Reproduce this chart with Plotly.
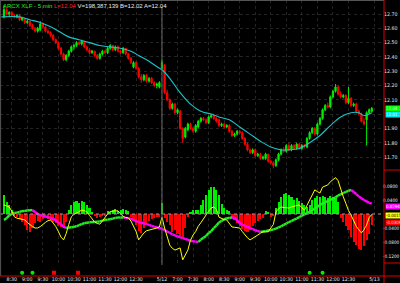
import plotly.graph_objects as go

W, H = 400, 283

# ---------------- data ----------------
bar_index = list(range(143))
opens = [12.68,12.73,12.70,12.71,12.69,12.68,12.69,12.66,12.67,12.64,12.65,12.62,12.60,12.58,12.59,12.63,12.61,12.58,12.57,12.55,
         12.52,12.50,12.46,12.42,12.38,12.41,12.44,12.47,12.48,12.50,12.49,12.51,12.47,12.45,12.43,12.44,12.41,12.39,12.42,12.44,
         12.43,12.46,12.48,12.45,12.47,12.44,12.43,12.46,12.42,12.39,12.33,12.36,12.32,12.26,12.24,12.27,12.23,12.25,12.22,12.20,
         12.19,
         12.32,12.34,12.15,12.10,12.04,12.07,12.01,12.02,11.90,11.84,11.89,11.93,11.90,11.88,11.91,11.95,11.97,11.96,11.94,11.98,
         11.99,11.97,11.96,11.92,11.93,11.91,11.92,11.88,11.85,11.86,11.88,11.87,11.83,11.79,11.75,11.73,11.75,11.71,11.72,11.69,
         11.69,11.72,11.67,11.66,11.64,11.68,11.72,11.75,11.74,11.78,11.75,11.78,11.76,11.79,11.76,11.78,11.77,11.83,11.87,11.90,
         11.86,11.93,11.97,12.03,12.06,12.05,12.12,12.16,12.19,12.14,12.12,12.13,12.08,12.11,12.06,12.07,12.02,12.00,11.95,11.96,
         12.01,12.02]
highs = [12.76,12.74,12.72,12.72,12.70,12.70,12.70,12.68,12.67,12.66,12.65,12.63,12.61,12.61,12.65,12.64,12.62,12.59,12.58,12.56,
         12.53,12.51,12.47,12.43,12.42,12.45,12.48,12.49,12.51,12.51,12.52,12.51,12.48,12.46,12.45,12.44,12.42,12.43,12.45,12.45,
         12.47,12.49,12.48,12.48,12.48,12.45,12.47,12.46,12.43,12.40,12.37,12.37,12.33,12.28,12.28,12.28,12.26,12.26,12.23,12.22,
         12.23,
         12.38,12.35,12.17,12.11,12.08,12.08,12.04,12.03,11.91,11.91,11.94,11.94,11.91,11.93,11.96,11.98,11.98,11.97,11.99,12.00,
         12.00,11.98,11.97,11.94,11.94,11.93,11.93,11.89,11.87,11.89,11.89,11.88,11.84,11.80,11.76,11.76,11.76,11.73,11.73,11.71,
         11.73,11.72,11.68,11.67,11.69,11.73,11.76,11.77,11.79,11.80,11.79,11.79,11.80,11.80,11.79,11.79,11.84,11.88,11.91,11.91,
         11.94,11.98,12.04,12.07,12.08,12.13,12.17,12.21,12.20,12.16,12.14,12.14,12.19,12.12,12.08,12.08,12.03,12.01,11.97,12.02,
         12.04,12.05]
lows = [12.67,12.69,12.68,12.68,12.67,12.67,12.65,12.65,12.63,12.63,12.61,12.59,12.57,12.57,12.58,12.60,12.57,12.56,12.54,12.51,
        12.49,12.45,12.41,12.37,12.37,12.40,12.43,12.45,12.47,12.48,12.48,12.46,12.44,12.42,12.42,12.40,12.38,12.38,12.41,12.42,
        12.42,12.45,12.44,12.44,12.43,12.42,12.42,12.41,12.38,12.35,12.32,12.31,12.25,12.22,12.23,12.22,12.22,12.21,12.19,12.18,
        12.18,
        12.31,12.14,12.09,12.03,12.03,12.00,12.00,11.89,11.80,11.83,11.88,11.89,11.87,11.87,11.90,11.94,11.95,11.93,11.93,11.97,
        11.96,11.94,11.91,11.91,11.90,11.90,11.87,11.84,11.84,11.85,11.86,11.82,11.78,11.74,11.72,11.72,11.70,11.70,11.68,11.68,
        11.68,11.66,11.65,11.62,11.63,11.67,11.71,11.73,11.73,11.74,11.74,11.75,11.75,11.75,11.75,11.76,11.76,11.82,11.86,11.85,
        11.85,11.92,11.96,12.02,12.04,12.04,12.11,12.15,12.13,12.11,12.11,12.07,12.07,12.05,12.05,12.01,11.99,11.94,11.92,11.78,
        12.00,12.01]
closes = [12.73,12.70,12.71,12.69,12.68,12.69,12.66,12.67,12.64,12.65,12.62,12.60,12.58,12.60,12.63,12.61,12.58,12.57,12.55,12.52,
          12.50,12.46,12.42,12.38,12.41,12.44,12.47,12.48,12.50,12.49,12.51,12.47,12.45,12.43,12.44,12.41,12.39,12.42,12.44,12.43,
          12.46,12.48,12.45,12.47,12.44,12.43,12.46,12.42,12.39,12.36,12.36,12.32,12.26,12.24,12.27,12.23,12.25,12.22,12.20,12.21,
          12.22,
          12.36,12.15,12.10,12.04,12.07,12.01,12.03,11.90,11.83,11.90,11.93,11.90,11.88,11.92,11.95,11.97,11.96,11.94,11.98,11.99,
          11.97,11.95,11.92,11.93,11.91,11.92,11.88,11.85,11.86,11.88,11.87,11.83,11.79,11.75,11.73,11.75,11.71,11.72,11.69,11.70,
          11.72,11.67,11.66,11.64,11.68,11.72,11.75,11.74,11.78,11.75,11.78,11.76,11.79,11.76,11.78,11.77,11.83,11.87,11.90,11.86,
          11.93,11.97,12.03,12.06,12.05,12.12,12.16,12.19,12.14,12.12,12.13,12.08,12.11,12.06,12.07,12.02,12.00,11.95,11.93,12.01,
          12.03,12.04]

ma_index = [-1, 6, 10, 14, 18, 22, 25, 29, 33, 37, 41, 45, 49, 52, 56, 60, 61, 64, 68, 72, 76, 80, 83, 87, 91, 95, 99,
            103, 107, 110, 114, 118, 122, 126, 130, 134, 137, 139, 142]
ma_values = [12.68, 12.68, 12.66, 12.64, 12.61, 12.57, 12.54, 12.52, 12.50, 12.48, 12.47, 12.46, 12.44, 12.41, 12.37, 12.32,
             12.31, 12.25, 12.15, 12.07, 12.02, 12.00, 11.98, 11.96, 11.91, 11.86, 11.81, 11.77, 11.75, 11.75, 11.76, 11.80,
             11.85, 11.92, 11.98, 12.01, 12.01, 11.99, 12.01]

histogram = [0.054,0.034,0.026,0.011,-0.003,-0.009,-0.014,-0.023,-0.031,-0.046,
             -0.051,-0.040,-0.026,-0.020,-0.023,-0.014,-0.011,-0.014,-0.017,-0.023,
             -0.026,-0.034,-0.037,-0.040,-0.023,0.011,0.026,0.034,0.037,0.031,
             0.037,0.034,0.026,0.017,0.006,-0.006,-0.011,-0.009,-0.006,-0.003,
             0.009,0.003,0.011,0.014,0.009,0.011,0.014,0.011,0.009,-0.009,
             -0.017,-0.031,-0.049,-0.054,-0.040,-0.029,-0.020,-0.014,-0.011,-0.009,
             -0.009,0.031,-0.011,-0.023,-0.031,-0.051,-0.046,-0.057,-0.063,-0.066,
             -0.040,-0.009,0.006,0.011,0.011,0.011,0.026,0.040,0.054,0.069,
             0.077,0.077,0.069,0.054,0.029,0.017,0.011,0.009,-0.011,-0.017,
             -0.026,-0.034,-0.043,-0.049,-0.051,-0.046,-0.034,-0.026,-0.020,-0.014,
             -0.011,0.009,0.003,-0.009,-0.003,0.017,0.034,0.049,0.057,0.060,
             0.054,0.049,0.040,0.046,0.037,0.031,0.026,0.020,0.026,0.040,
             0.046,0.051,0.049,0.051,0.049,0.046,0.051,0.049,0.046,0.034,
             -0.011,-0.023,-0.034,-0.046,-0.066,-0.080,-0.089,-0.100,-0.103,-0.091,
             -0.074,-0.057,-0.031]

macd_line = [0.026,0.024,0.020,0.008,-0.008,-0.012,-0.014,-0.015,-0.017,-0.024,
             -0.031,-0.036,-0.040,-0.040,-0.036,-0.029,-0.024,-0.019,-0.017,-0.026,
             -0.036,-0.050,-0.066,-0.074,-0.056,-0.030,-0.008,-0.001,0.003,0.008,
             0.011,0.010,0.006,-0.004,-0.015,-0.023,-0.027,-0.029,-0.020,-0.009,
             0.000,0.007,0.009,0.009,0.009,0.002,-0.007,-0.010,-0.011,-0.020,
             -0.034,-0.050,-0.074,-0.064,-0.054,-0.048,-0.046,-0.046,-0.044,-0.040,
             -0.037,-0.009,-0.040,-0.066,-0.089,-0.098,-0.103,-0.100,-0.097,-0.131,
             -0.115,-0.103,-0.075,-0.060,-0.050,-0.035,-0.025,-0.012,-0.003,0.008,
             0.017,0.020,0.014,-0.009,-0.013,-0.016,-0.017,-0.027,-0.037,-0.038,
             -0.040,-0.040,-0.050,-0.060,-0.068,-0.074,-0.070,-0.066,-0.060,-0.055,
             -0.051,-0.051,-0.051,-0.040,-0.030,0.006,0.015,0.020,0.019,0.018,
             0.017,0.020,0.022,0.024,0.026,0.018,0.011,0.025,0.040,0.055,
             0.069,0.064,0.060,0.077,0.080,0.083,0.092,0.097,0.104,0.095,
             0.070,0.049,0.030,0.010,-0.003,-0.020,-0.035,-0.045,-0.054,-0.045,
             -0.031,-0.010,-0.0015]

signal_line = [-0.017,-0.012,-0.004,0.000,0.003,0.004,0.006,0.008,0.009,0.010,
               0.011,0.011,0.006,0.000,-0.003,-0.005,-0.007,-0.009,-0.011,-0.014,
               -0.018,-0.024,-0.030,-0.036,-0.040,-0.039,-0.038,-0.037,-0.035,-0.032,
               -0.029,-0.026,-0.025,-0.024,-0.023,-0.023,-0.022,-0.021,-0.019,-0.017,
               -0.016,-0.015,-0.013,-0.011,-0.010,-0.010,-0.010,-0.011,-0.012,-0.014,
               -0.017,-0.020,-0.023,-0.025,-0.027,-0.029,-0.031,-0.034,-0.036,-0.038,
               -0.040,-0.042,-0.046,-0.050,-0.054,-0.058,-0.061,-0.064,-0.066,-0.069,
               -0.071,-0.074,-0.076,-0.078,-0.079,-0.080,-0.073,-0.068,-0.063,-0.054,
               -0.049,-0.040,-0.033,-0.024,-0.020,-0.015,-0.012,-0.011,-0.010,-0.011,
               -0.018,-0.026,-0.030,-0.034,-0.037,-0.040,-0.043,-0.046,-0.049,-0.051,
               -0.050,-0.049,-0.047,-0.046,-0.044,-0.042,-0.038,-0.035,-0.031,-0.027,
               -0.023,-0.020,-0.016,-0.013,-0.009,-0.005,-0.001,0.003,0.006,0.011,
               0.016,0.021,0.026,0.030,0.034,0.037,0.040,0.044,0.048,0.053,
               0.056,0.060,0.063,0.066,0.069,0.063,0.057,0.050,0.045,0.040,
               0.036,0.032,0.0294]

buy_dots = [7, 11, 118, 123]
sell_dots = [19.3, 28.6]

x_tick_index = [3, 9, 15, 21, 27, 33, 39, 45, 51, 61, 67, 73, 79, 85, 91, 97, 103, 109, 115, 121, 127, 133, 143]
x_tick_text = ["8:30", "9:00", "9:30", "10:00", "10:30", "11:00", "11:30", "12:00", "12:30", "5/12", "7:00", "7:30",
               "8:00", "8:30", "9:00", "9:30", "10:00", "10:30", "11:00", "11:30", "12:00", "12:30", "5/13"]
price_ticks = [11.70, 11.80, 11.90, 12.00, 12.10, 12.20, 12.30, 12.40, 12.50, 12.60, 12.70]
price_tick_text = ["11.70", "11.80", "11.90", "", "12.10", "12.20", "12.30", "12.40", "12.50", "12.60", "12.70"]
ind_ticks = [-0.12, -0.08, -0.04, 0.04, 0.08]
ind_tick_text = ["-0.1200", "-0.0800", "-0.0400", "0.0400", "0.0800"]
day_break_index = 61

header_parts = [("ARCX XLF - 5 min", "#22ee22"), ("L=12.04", "#ff2020"),
                ("V=198,387,139", "#e8e8e8"), ("B=12.02", "#e8e8e8"), ("A=12.04", "#e8e8e8")]
last_price, last_ma = 12.04, 12.01
last_signal, last_macd, last_hist = 0.0294, -0.0015, -0.0309

# ---------------- figure ----------------
GREEN = "#00ee00"
RED = "#ff0000"
MAG = "#ff00ff"
GRID = "#242424"
FONT = "Liberation Sans Narrow, Arial Narrow, DejaVu Sans Condensed, Liberation Sans"
TICKFONT = dict(family=FONT, size=5.2, color="#e6e6e6")

fig = go.Figure()

fig.add_trace(go.Candlestick(
    x=bar_index, open=opens, high=highs, low=lows, close=closes,
    xaxis="x3", yaxis="y",
    increasing=dict(line=dict(color=GREEN, width=1), fillcolor=GREEN),
    decreasing=dict(line=dict(color=RED, width=1), fillcolor=RED),
    whiskerwidth=0, hoverinfo="skip"))

fig.add_trace(go.Scatter(x=ma_index, y=ma_values, mode="lines", xaxis="x3", yaxis="y",
                         line=dict(color="#19c3c8", width=1.1, shape="spline"), hoverinfo="skip"))

fig.add_trace(go.Bar(x=bar_index, y=histogram, xaxis="x2", yaxis="y2", width=0.8,
                     marker=dict(color=[GREEN if v >= 0 else RED for v in histogram], line=dict(width=0)),
                     hoverinfo="skip"))

# signal line coloured by direction
gx, gy, mx, my = [], [], [], []
for k in range(len(signal_line) - 1):
    if signal_line[k + 1] >= signal_line[k]:
        gx += [bar_index[k], bar_index[k + 1], None]
        gy += [signal_line[k], signal_line[k + 1], None]
    else:
        mx += [bar_index[k], bar_index[k + 1], None]
        my += [signal_line[k], signal_line[k + 1], None]
fig.add_trace(go.Scatter(x=gx, y=gy, mode="lines", xaxis="x2", yaxis="y2",
                         line=dict(color="#22ee22", width=2.4), hoverinfo="skip"))
fig.add_trace(go.Scatter(x=mx, y=my, mode="lines", xaxis="x2", yaxis="y2",
                         line=dict(color=MAG, width=2.4), hoverinfo="skip"))

fig.add_trace(go.Scatter(x=bar_index, y=macd_line, mode="lines", xaxis="x2", yaxis="y2",
                         line=dict(color="#ffff00", width=1), hoverinfo="skip"))

fig.add_trace(go.Scatter(x=buy_dots, y=[0.25] * len(buy_dots), mode="markers", xaxis="x", yaxis="y3",
                         marker=dict(color=GREEN, size=4, symbol="circle"), hoverinfo="skip"))
fig.add_trace(go.Scatter(x=sell_dots, y=[0.25] * len(sell_dots), mode="markers", xaxis="x", yaxis="y3",
                         marker=dict(color=RED, size=4, symbol="square"), hoverinfo="skip"))

px_per_bar = 2.59
x_left = -4 / px_per_bar
x_right = x_left + 384 / px_per_bar
XD = 384 / W

def py(y):  # pixel from top -> paper
    return 1 - y / H

price_top = 12.70 + 14 / 143
price_bot = 12.70 - 156 / 143
ind_top = (214 - 170) / 350
ind_bot = (214 - 263) / 350

common_x = dict(range=[x_left, x_right], gridcolor=GRID, griddash="dot", gridwidth=1,
                zeroline=False, showline=False, tickvals=x_tick_index, fixedrange=True)

fig.update_layout(
    width=W, height=H, margin=dict(l=0, r=0, t=0, b=0),
    paper_bgcolor="black", plot_bgcolor="black", showlegend=False,
    font=dict(family=FONT, size=6, color="#e6e6e6"),
    bargap=0,
    xaxis=dict(domain=[0, XD], anchor="y3", ticktext=x_tick_text, ticks="", ticklabelstandoff=-1,
               tickangle=0, showgrid=False, automargin=False, tickfont=TICKFONT, **common_x),
    xaxis2=dict(domain=[0, XD], anchor="y2", matches="x", showticklabels=False, showgrid=True, **common_x),
    xaxis3=dict(domain=[0, XD], anchor="y", matches="x", showticklabels=False, showgrid=True,
                rangeslider=dict(visible=False), **common_x),
    yaxis=dict(domain=[py(170), 1], anchor="x3", side="right", range=[price_bot, price_top],
               tickvals=price_ticks, ticktext=price_tick_text, ticks="", ticklabelstandoff=-1,
               showgrid=True, gridcolor=GRID, griddash="dot", zeroline=False, showline=False,
               automargin=False, tickfont=TICKFONT),
    yaxis2=dict(domain=[py(263), py(170)], anchor="x2", side="right", range=[ind_bot, ind_top],
                tickvals=ind_ticks, ticktext=ind_tick_text, ticks="", ticklabelstandoff=-2,
                showgrid=False, zeroline=False, showline=False, automargin=False,
                tickfont=dict(family=FONT, size=4.7, color="#e6e6e6")),
    yaxis3=dict(domain=[py(276), py(263)], anchor="x", range=[0, 1], showticklabels=False,
                showgrid=False, zeroline=False, showline=False),
)

shapes = [
    dict(type="line", xref="paper", x0=0, x1=XD, yref="y2", y0=0, y1=0,
         line=dict(color="#9a9a9a", width=1, dash="dot")),
    dict(type="line", xref="x", x0=day_break_index, x1=day_break_index, yref="paper", y0=py(265), y1=py(7),
         line=dict(color="#6a6a6a", width=1)),
    dict(type="line", xref="paper", x0=0.0015, x1=0.0015, yref="paper", y0=py(276), y1=1,
         line=dict(color="#555555", width=1)),
    dict(type="line", xref="paper", x0=0, x1=XD, yref="paper", y0=py(0.5), y1=py(0.5),
         line=dict(color="#555555", width=1)),
    dict(type="line", xref="paper", x0=XD, x1=XD, yref="paper", y0=0, y1=1,
         line=dict(color="#dd0000", width=1)),
    dict(type="line", xref="paper", x0=0, x1=1, yref="paper", y0=py(276), y1=py(276),
         line=dict(color="#dd0000", width=1)),
    dict(type="line", xref="paper", x0=XD, x1=1, yref="paper", y0=py(170), y1=py(170),
         line=dict(color="#dd0000", width=1)),
    dict(type="line", xref="paper", x0=XD, x1=1, yref="paper", y0=py(263), y1=py(263),
         line=dict(color="#dd0000", width=1)),
]
fig.update_layout(shapes=shapes)

header = " ".join(f'<span style="color:{c}">{t}</span>' for t, c in header_parts)
annotations = [
    dict(xref="paper", yref="paper", x=0.003, y=py(1), xanchor="left", yanchor="top", showarrow=False,
         text=header, font=dict(family="Liberation Sans, Arial", size=6)),
]

def tag(yval, text, bg, fg):
    return dict(xref="paper", x=XD + 0.0015, xanchor="left", yref="paper", y=py(yval), yanchor="middle",
                showarrow=False, text=text, bgcolor=bg, borderpad=0, width=16, height=5, align="left",
                font=dict(family=FONT, size=4.4, color=fg))

annotations += [
    tag(108.5, f"{last_price:.2f}", "#00ff00", "#e8ffe8"),
    tag(114, f"{last_ma:.2f}", "#00e5ee", "#f0ffff"),
    tag(206, f"{last_signal:.4f}", "#ff00ff", "#ffffff"),
    tag(215, f"{last_macd:.4f}", "#ffff00", "#000000"),
    tag(222, f"{last_hist:.4f}", "#ff0000", "#ffd0d0"),
]
fig.update_layout(annotations=annotations)

fig.write_html("out.html")
